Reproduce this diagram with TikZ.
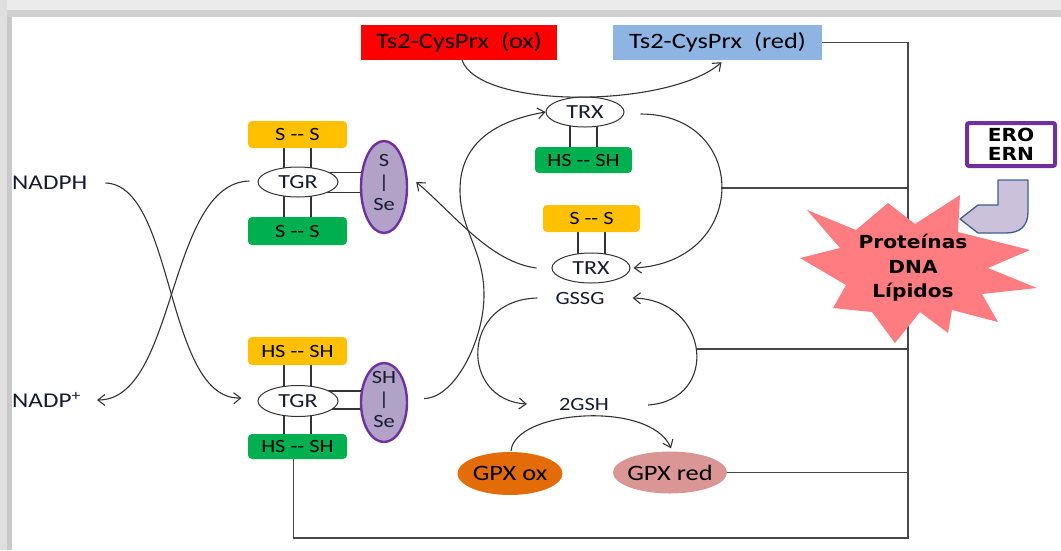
\documentclass[tikz,border=0pt]{standalone}
\usepackage{fontspec}
\setmainfont{Carlito}[FakeStretch=1.2]
\newfontfamily\heavy{DejaVu Sans}[FakeStretch=1.12]
\usetikzlibrary{arrows.meta,calc,shapes.geometric}
\pgfdeclarelayer{back}
\pgfdeclarelayer{bg}
\pgfsetlayers{back,bg,main}
\definecolor{cyel}{HTML}{FFC000}
\definecolor{cgrn}{HTML}{00B050}
\definecolor{cred}{HTML}{FF0000}
\definecolor{cblue}{HTML}{8EB4E3}
\definecolor{cpur}{HTML}{7030A0}
\definecolor{clav}{HTML}{B3A2C7}
\definecolor{corange}{HTML}{E36C09}
\definecolor{cpink}{HTML}{D99694}
\definecolor{cstar}{HTML}{FF7C80}
\definecolor{carrf}{HTML}{CCC1DA}
\definecolor{carrd}{HTML}{3E5F8A}
\definecolor{cnavy}{HTML}{161C30}
\definecolor{cline}{HTML}{333333}
\begin{document}
\begin{tikzpicture}[x=1pt,y=-1pt,
  rbox/.style={rectangle, minimum height=35pt, inner sep=0pt, font=\fontsize{22}{24}\selectfont},
  sbox/.style={rectangle, rounded corners=4pt, minimum width=99pt, minimum height=27pt, inner sep=0pt, font=\fontsize{18.7}{20}\selectfont},
  yel/.style={sbox, fill=cyel},
  grn/.style={sbox, fill=cgrn},
  ell/.style={ellipse, draw=cline, line width=1pt, fill=white, minimum width=80pt, minimum height=30pt, inner sep=0pt, text=cnavy, font=\fontsize{20}{22}\selectfont},
  sel/.style={ellipse, draw=cpur, line width=2.4pt, fill=clav, minimum width=46pt, minimum height=90pt, inner sep=0pt},
  seltxt/.style={align=center, inner sep=0pt, text=cnavy, font=\fontsize{18.7}{22}\selectfont},
  lab/.style={inner sep=0pt, text=cnavy, font=\fontsize{18.7}{20}\selectfont},
  gpx/.style={ellipse, inner sep=0pt, inner xsep=-6pt, font=\fontsize{22}{24}\selectfont},
  arr/.style={line width=1.1pt, draw=cline, -{Straight Barb[length=7pt,width=11pt]}},
  wire/.style={line width=1.4pt, draw=cline!90},
  link/.style={line width=1.1pt, draw=cline},
  heavytxt/.style={align=center, inner sep=0pt, font=\heavy\bfseries\fontsize{18}{24.5}\selectfont}
]
\useasboundingbox (0,0) rectangle (1061,550);
% frame
\begin{pgfonlayer}{back}
\fill[white] (0,0) rectangle (1061,550);
\fill[gray!16] (0,0) rectangle (1061,10);
\fill[gray!36] (0,10) rectangle (1061,17);
\fill[gray!25] (0,0) rectangle (7,550);
\fill[gray!42] (7,17) rectangle (12,550);
\end{pgfonlayer}

% top boxes
\node[rbox, fill=cred, minimum width=196pt] (ox) at (459,42.5) {Ts2-CysPrx\ \ (ox)};
\node[rbox, fill=cblue, minimum width=209pt] (red) at (717.5,42.5) {Ts2-CysPrx\ \ (red)};

% TGR top
\node[yel] (ssTy) at (297.5,134.5) {S -{}- S};
\node[grn, minimum height=28pt] (ssTg) at (297.5,231) {S -{}- S};
\node[ell] (tgrT) at (298,182) {TGR};
\node[sel, minimum height=92pt] (seT) at (384,187) {};
\node[seltxt] (seTt) at (384,182) {S\\|\\Se};

% TGR bottom
\node[yel, minimum height=28pt] (hsBy) at (297.5,351) {HS -{}- SH};
\node[grn, minimum height=25pt] (hsBg) at (297.5,446.5) {HS -{}- SH};
\node[ell, minimum height=31pt] (tgrB) at (298,401) {TGR};
\node[sel, minimum height=79pt] (seB) at (384,402.5) {};
\node[seltxt] (seBt) at (384,399.5) {SH\\|\\Se};

% TRX
\node[ell, minimum width=78pt] (trxT) at (585,112) {TRX};
\node[grn, minimum width=97pt, minimum height=26pt] (hsT) at (583.5,160) {HS -{}- SH};
\node[yel, minimum width=97pt] (ssM) at (591.5,218.5) {S -{}- S};
\node[ell, minimum width=78pt] (trxB) at (591,268) {TRX};

% glutathione
\node[lab] (gssg) at (580,298) {GSSG};
\node[lab] (gsh) at (584,404) {2GSH};
\node[gpx, fill=corange, minimum width=105pt, minimum height=43pt] (gpxox) at (510,473.5) {GPX ox};
\node[gpx, fill=cpink, minimum width=114pt, minimum height=42pt] (gpxred) at (670,472.5) {GPX red};

% NADPH
\node[lab, anchor=west, font=\fontsize{21}{23}\selectfont] (nadph) at (12,183) {NADPH};
\node[lab, anchor=west, font=\fontsize{21}{23}\selectfont] (nadp) at (12,400) {NADP\textsuperscript{+}};

% curve coordinates
\coordinate (trxR) at (721,188);
\coordinate (gsR) at (696,349);
\coordinate (cBR) at (908,538);

% star
\fill[cstar] (807,210) -- (856,230) -- (888,203) -- (915,224) -- (960,195) -- (958,232) -- (1030,250) -- (988,268) -- (1037,288) -- (982,294) -- (998,322) -- (952,310) -- (948,333) -- (920,312) -- (895,343) -- (872,312) -- (833,308) -- (846,285) -- (800,258) -- (840,248) -- cycle;
\node[heavytxt] (dano) at (913,268) {Proteínas\\DNA\\Lípidos};

% bent arrow
\filldraw[fill=carrf, draw=carrd, line width=1.3pt, line join=round] (998,180) -- (1028,180) -- (1028,212) .. controls (1028,226) and (1020,233) .. (1006,233) -- (978,233) -- (960,219) -- (978,205) -- (998,205) -- cycle;

% ERO box
\node[draw=cpur, line width=4pt, fill=white, minimum width=88pt, minimum height=43pt, rounded corners=2pt, align=center, inner sep=0pt, font=\heavy\bfseries\fontsize{18}{19.5}\selectfont] (ero) at (1011,144.5) {ERO\\ERN};

% curves
\draw[arr] ($(ox.south)+(3,0)$) .. controls (480,110) and (670,108) .. ($(red.south)+(4,2)$);
\draw[arr] ($(trxT.east)+(16,2)$) .. controls (750,114) and (750,262) .. ($(trxB.east)+(3,0)$);
\draw[arr] ($(seB.east)+(16,-4)$) .. controls (455,398) and (484,340) .. (484,295) .. controls (484,250) and (460,230) .. (460,190) .. controls (460,140) and (500,120) .. (trxT.west);
\draw[arr] ($(trxB.west)+(-15,0)$) .. controls (490,262) and (455,215) .. ($(seT.east)+(8,-5)$);
\draw[arr] ($(gssg.west)+(-18,0)$) .. controls (460,300) and (460,400) .. ($(gsh.west)+(-32,0)$);
\draw[arr] ($(gsh.east)+(39,1)$) .. controls (720,400) and (710,300) .. ($(gssg.east)+(28,0)$);
\draw[arr] ($(gpxox.north)+(1,-1)$) .. controls (515,410) and (650,400) .. ($(gpxred.north)+(1,-3)$);
\draw[arr] ($(nadph.east)+(18,0)$) .. controls (175,185) and (165,400) .. ($(tgrB.west)+(-16,-3)$);
\draw[arr] ($(tgrT.west)+(-8,-1)$) .. controls (167,183) and (177,400) .. ($(nadp.east)+(16,0)$);

\begin{pgfonlayer}{bg}
\foreach \s in {-13.5,13.5} {
  \draw[link] ($(ssTy.south)+(\s,0)$) -- ($(ssTg.north)+(\s,0)$);
  \draw[link] ($(hsBy.south)+(\s,0)$) -- ($(hsBg.north)+(\s,0)$);
  \draw[link] ($(hsT.north)+(\s,0)$) -- ($(hsT.north)+(\s,-30)$);
  \draw[link] ($(ssM.south)+(\s,0)$) -- ($(ssM.south)+(\s,30)$);
}
\foreach \t in {-9.5,10.5} {
  \draw[link] ($(tgrT.center)+(0,\t)$) -- ($(tgrT.center)+(86,\t)$);
}
\foreach \t in {-10,8} {
  \draw[link] ($(tgrB.center)+(0,\t)$) -- ($(tgrB.center)+(86,\t)$);
}
\draw[wire] (red.east) -| (cBR) -| ($(hsBg.south)+(-4,0)$);
\draw[wire] (trxR) -- (trxR -| cBR);
\draw[wire] (gsR) -- (gsR -| cBR);
\draw[wire] (gpxred.east) -- (gpxred.east -| cBR);
\end{pgfonlayer}
\end{tikzpicture}
\end{document}
